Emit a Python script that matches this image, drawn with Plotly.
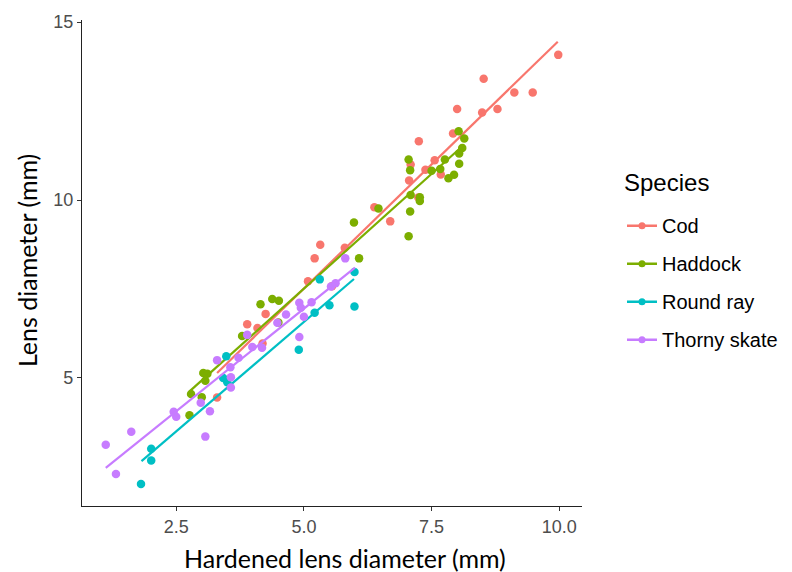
import plotly.graph_objects as go

species = ["Cod", "Haddock", "Round ray", "Thorny skate"]
colors = ["#F8766D", "#7CAE00", "#00BFC4", "#C77CFF"]

cod_x = [9.98, 8.52, 9.12, 9.48, 8.0, 8.49, 8.79, 7.92, 7.25, 7.56, 7.38, 7.09, 7.06, 7.68, 7.24,
         6.38, 6.69, 5.32, 5.21, 5.80, 5.55, 5.08, 4.25, 3.89, 4.09, 4.19, 3.30]
cod_y = [14.08, 13.41, 13.02, 13.02, 12.56, 12.46, 12.56, 11.87, 11.65, 11.12, 10.85, 11.0, 10.55, 10.72, 10.07,
         9.8, 9.40, 8.74, 8.36, 8.66, 7.58, 7.72, 6.80, 6.51, 6.40, 5.97, 4.45]

haddock_x = [8.03, 8.14, 8.10, 8.04, 8.04, 7.94, 7.83, 7.76, 7.67, 7.50, 7.05, 7.08, 7.09, 7.27, 7.27,
             7.08, 7.05, 6.46, 5.98, 6.08, 4.15, 4.38, 4.51, 4.50, 3.79, 3.03, 3.11, 3.07, 3.00, 2.79, 2.76]
haddock_y = [11.93, 11.73, 11.46, 11.31, 11.02, 10.71, 10.61, 11.14, 10.87, 10.82, 11.14, 10.84, 10.14, 10.08, 9.97,
             9.68, 8.98, 9.76, 9.37, 8.36, 7.07, 7.22, 7.17, 6.56, 6.18, 5.14, 5.12, 4.92, 4.46, 4.55, 3.95]

ray_x = [1.81, 2.01, 2.01, 3.48, 3.42, 3.50, 4.90, 5.31, 5.21, 5.50, 5.99, 5.99]
ray_y = [2.02, 2.68, 3.01, 5.61, 5.0, 4.88, 5.79, 7.77, 6.83, 7.04, 7.98, 7.01]

skate_x = [1.12, 1.32, 1.62, 2.45, 2.50, 2.98, 3.16, 3.07, 3.30, 3.56, 3.57, 3.57, 3.72, 3.89, 3.99,
           4.18, 4.48, 4.65, 4.91, 4.94, 5.15, 4.91, 5.0, 5.53, 5.62, 5.81]
skate_y = [3.12, 2.30, 3.49, 4.05, 3.91, 4.30, 4.06, 3.35, 5.50, 5.30, 5.02, 4.73, 5.57, 6.21, 5.87,
           5.85, 6.55, 6.78, 7.11, 6.97, 7.13, 6.15, 6.72, 7.57, 7.66, 8.36]

# fitted lines (endpoints)
cod_fit_x = [3.30, 9.97]
cod_fit_y = [5.14, 14.45]
haddock_fit_x = [2.76, 8.14]
haddock_fit_y = [4.62, 11.56]
ray_fit_x = [1.82, 5.98]
ray_fit_y = [2.66, 7.78]
skate_fit_x = [1.12, 6.00]
skate_fit_y = [2.47, 8.10]

points = [(cod_x, cod_y), (haddock_x, haddock_y), (ray_x, ray_y), (skate_x, skate_y)]
fits = [(cod_fit_x, cod_fit_y), (haddock_fit_x, haddock_fit_y), (ray_fit_x, ray_fit_y), (skate_fit_x, skate_fit_y)]

x_ticks = [2.5, 5.0, 7.5, 10.0]
x_tick_labels = ["2.5", "5.0", "7.5", "10.0"]
y_ticks = [5, 10, 15]
y_tick_labels = ["5", "10", "15"]

fig = go.Figure()
for name, col, (px, py), (fx, fy) in zip(species, colors, points, fits):
    fig.add_trace(go.Scatter(x=px, y=py, mode="markers", legendgroup=name, showlegend=False,
                             marker=dict(color=col, size=8.5, line=dict(width=0)), name=name))
    fig.add_trace(go.Scatter(x=fx, y=fy, mode="lines", legendgroup=name, showlegend=False,
                             line=dict(color=col, width=2.2), name=name))
    fig.add_trace(go.Scatter(x=[None], y=[None], mode="lines+markers", legendgroup=name, showlegend=True,
                             line=dict(color=col, width=2.5), marker=dict(color=col, size=7), name=name))

axis_common = dict(showgrid=False, zeroline=False, showline=True, linecolor="#222222", linewidth=1.3,
                   ticks="outside", ticklen=4, tickcolor="#333333", tickwidth=1.2,
                   tickfont=dict(family="Arial, Liberation Sans, sans-serif", size=18, color="#4D4D4D"),
                   mirror=False, automargin=False)

fig.update_layout(
    width=792, height=572,
    paper_bgcolor="white", plot_bgcolor="white",
    margin=dict(l=74, r=218, t=12, b=74),
    xaxis=dict(range=[0.655, 10.445], tickvals=x_ticks, ticktext=x_tick_labels, **axis_common),
    yaxis=dict(range=[1.4, 15.06], tickvals=y_ticks, ticktext=y_tick_labels, **axis_common),
    legend=dict(x=1.08, y=0.617, xanchor="left", yanchor="top",
                font=dict(family="Arial, Liberation Sans, sans-serif", size=20, color="black"),
                tracegroupgap=9, traceorder="grouped", itemwidth=30),
    showlegend=True,
    annotations=[
        dict(text="Hardened lens diameter (mm)", xref="paper", yref="paper", x=0.526, y=-0.108,
             xanchor="center", yanchor="middle", showarrow=False,
             font=dict(family="Lato, sans-serif", size=25, color="black")),
        dict(text="Lens diameter (mm)", xref="paper", yref="paper", x=-0.11, y=0.504,
             xanchor="center", yanchor="middle", textangle=-90, showarrow=False,
             font=dict(family="Lato, sans-serif", size=25, color="black")),
        dict(text="Species", xref="paper", yref="paper", x=1.08, y=0.665,
             xanchor="left", yanchor="middle", showarrow=False,
             font=dict(family="Arial, Liberation Sans, sans-serif", size=24, color="black")),
    ],
)

fig.write_html("out.html")
